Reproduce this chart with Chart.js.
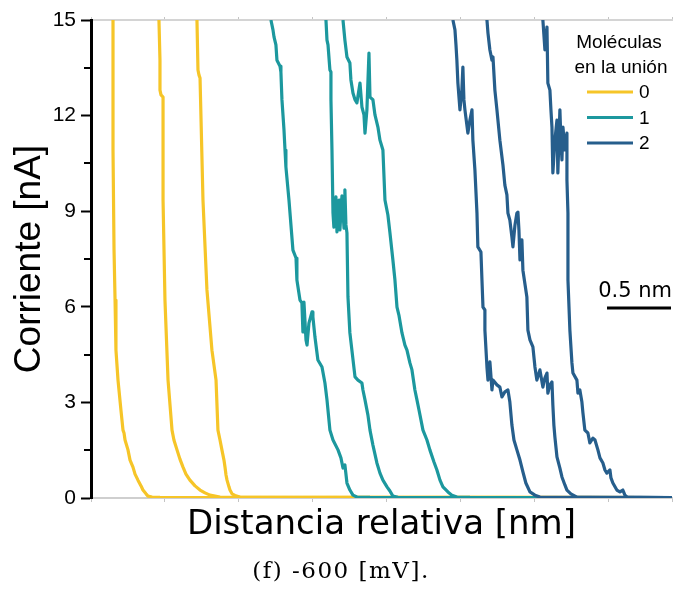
<!DOCTYPE html>
<html>
<head>
<meta charset="utf-8">
<script src="https://cdn.jsdelivr.net/npm/chart.js@4"></script>
<style>
  body { margin: 0; background: #fff; }
  #wrap { width: 673px; height: 600px; }
</style>
</head>
<body>
<div id="wrap"><canvas id="curvas" width="673" height="600"></canvas></div>
<script>
// distancia relativa [nm], corriente [nA]
const XMAX = 4.54;
const yTicks = [0, 3, 6, 9, 12, 15];
const grupos = ['0', '1', '2'];
const leyendaTitulo = ['Moléculas', 'en la unión'];
const barraNm = 0.5;

const mol0_a = [[0.172,15],[0.172,10.92],[0.180,7.78],[0.188,6.21],[0.195,4.64],[0.211,3.70],[0.234,2.76],[0.250,2.13],[0.258,2.04],[0.266,1.82],[0.289,1.51],[0.305,1.19],[0.328,0.97],[0.344,0.75],[0.367,0.56],[0.391,0.38],[0.406,0.25],[0.430,0.13],[0.445,0.06],[0.477,0.03],[0.539,0.02],[1.5,0.01],[3.0,0.02],[4.54,0.01]];
const mol0_b = [[0.531,15],[0.539,13.74],[0.539,12.80],[0.547,12.65],[0.563,12.58],[0.563,9.35],[0.578,6.21],[0.602,3.70],[0.633,2.13],[0.648,1.82],[0.672,1.51],[0.695,1.22],[0.719,0.97],[0.742,0.75],[0.773,0.56],[0.813,0.38],[0.852,0.25],[0.891,0.16],[0.930,0.09],[1.008,0.03],[1.164,0.02],[4.54,0.01]];
const mol0_c = [[0.828,15],[0.836,13.43],[0.844,13.27],[0.852,13.18],[0.875,9.35],[0.906,6.53],[0.945,4.64],[0.977,3.70],[0.992,2.13],[1.008,1.82],[1.023,1.51],[1.039,1.19],[1.047,0.97],[1.055,0.72],[1.063,0.56],[1.078,0.35],[1.086,0.25],[1.102,0.13],[1.125,0.08],[1.164,0.03],[1.320,0.02],[4.54,0.01]];

const mol1_a = [[1.406,15],[1.422,14.69],[1.430,14.47],[1.445,14.22],[1.453,13.74],[1.477,13.55],[1.484,13.37],[1.492,12.50],[1.508,11.55],[1.516,10.92],[1.523,10.39],[1.547,9.35],[1.578,7.78],[1.602,7.53],[1.609,6.84],[1.633,6.21],[1.648,6.12],[1.656,5.21],[1.664,6.15],[1.680,4.96],[1.688,4.80],[1.703,5.49],[1.727,5.84],[1.734,5.68],[1.750,5.05],[1.773,4.33],[1.805,4.11],[1.828,3.61],[1.844,3.08],[1.867,2.13],[1.891,1.82],[1.930,1.51],[1.953,1.26],[1.969,0.94],[1.984,1.04],[2.000,0.47],[2.023,0.25],[2.047,0.09],[2.078,0.03],[2.180,0.02],[4.54,0.01]];
const mol1_b = [[1.836,15],[1.844,14.37],[1.852,14.22],[1.867,13.43],[1.875,13.37],[1.875,12.50],[1.883,10.92],[1.891,8.94],[1.898,8.50],[1.914,9.45],[1.922,8.35],[1.938,9.35],[1.945,8.41],[1.961,9.48],[1.977,8.47],[1.984,9.67],[1.992,8.57],[2.000,8.32],[2.008,6.31],[2.023,5.18],[2.063,3.80],[2.086,3.70],[2.117,3.61],[2.125,3.39],[2.141,3.08],[2.164,2.60],[2.180,2.13],[2.203,1.66],[2.234,1.10],[2.258,0.78],[2.281,0.56],[2.313,0.35],[2.336,0.22],[2.359,0.06],[2.398,0.02],[4.54,0.01]];
const mol1_c = [[1.969,15],[1.984,14.37],[2.000,13.84],[2.023,13.65],[2.031,13.12],[2.047,12.71],[2.063,12.50],[2.078,12.40],[2.102,13.02],[2.117,12.27],[2.133,12.02],[2.141,11.45],[2.156,12.18],[2.172,13.96],[2.180,12.58],[2.203,12.50],[2.219,12.02],[2.242,11.64],[2.258,11.23],[2.281,10.92],[2.297,9.35],[2.320,8.88],[2.336,8.32],[2.359,7.47],[2.375,6.84],[2.391,5.99],[2.406,5.74],[2.430,5.18],[2.453,4.80],[2.469,4.64],[2.492,4.24],[2.508,4.02],[2.531,3.39],[2.547,3.08],[2.563,2.76],[2.594,2.13],[2.625,1.82],[2.648,1.51],[2.680,1.13],[2.703,0.88],[2.727,0.56],[2.750,0.35],[2.789,0.19],[2.820,0.09],[2.859,0.03],[2.961,0.02],[4.54,0.01]];

const mol2_a = [[2.828,15],[2.844,14.69],[2.852,14.22],[2.859,13.74],[2.867,13.02],[2.883,12.18],[2.898,12.80],[2.906,13.52],[2.914,12.50],[2.922,12.18],[2.945,11.45],[2.961,11.86],[2.977,12.18],[2.984,11.23],[3.000,10.29],[3.016,8.94],[3.023,7.88],[3.047,7.72],[3.055,6.84],[3.063,5.99],[3.078,5.90],[3.078,5.27],[3.094,4.11],[3.102,3.70],[3.117,4.27],[3.133,3.39],[3.141,3.70],[3.172,3.55],[3.195,3.48],[3.211,3.17],[3.234,3.33],[3.258,3.39],[3.273,3.01],[3.289,2.29],[3.305,1.82],[3.328,1.51],[3.352,1.19],[3.375,0.82],[3.398,0.47],[3.430,0.19],[3.469,0.09],[3.508,0.03],[3.625,0.02],[4.54,0.01]];
const mol2_b = [[3.094,15],[3.102,14.59],[3.117,14.06],[3.133,13.74],[3.141,13.84],[3.156,12.80],[3.172,12.18],[3.195,11.23],[3.219,10.45],[3.234,9.82],[3.250,9.51],[3.258,8.94],[3.273,8.72],[3.289,8.19],[3.297,7.88],[3.313,8.57],[3.328,8.94],[3.336,8.97],[3.344,8.41],[3.352,7.47],[3.367,8.10],[3.375,7.15],[3.406,6.31],[3.414,5.27],[3.430,4.96],[3.453,4.74],[3.469,4.11],[3.484,3.70],[3.508,4.02],[3.531,3.48],[3.547,3.77],[3.563,3.92],[3.570,3.29],[3.586,3.55],[3.602,3.64],[3.609,2.92],[3.617,2.29],[3.625,1.91],[3.641,1.29],[3.664,0.94],[3.680,0.66],[3.703,0.41],[3.719,0.25],[3.750,0.13],[3.797,0.03],[3.898,0.02],[4.54,0.01]];
const mol2_c = [[3.531,15],[3.539,14.53],[3.547,14.06],[3.563,14.78],[3.570,13.02],[3.586,12.80],[3.594,12.18],[3.602,11.64],[3.609,10.20],[3.625,11.23],[3.641,11.86],[3.648,10.20],[3.664,12.18],[3.672,11.23],[3.680,10.61],[3.688,11.64],[3.703,10.92],[3.719,11.45],[3.719,9.98],[3.727,8.94],[3.727,6.84],[3.742,5.27],[3.758,4.24],[3.766,3.92],[3.797,3.70],[3.805,3.29],[3.820,3.39],[3.836,3.01],[3.844,2.67],[3.859,2.13],[3.883,2.04],[3.898,1.73],[3.922,1.88],[3.938,1.82],[3.961,1.51],[3.977,1.26],[4.000,1.10],[4.016,0.88],[4.031,0.78],[4.055,0.88],[4.063,0.63],[4.078,0.47],[4.109,0.25],[4.133,0.19],[4.156,0.25],[4.172,0.09],[4.188,0.03],[4.289,0.02],[4.54,0.01]];

const series = [[mol0_a, mol0_b, mol0_c], [mol1_a, mol1_b, mol1_c], [mol2_a, mol2_b, mol2_c]];
const colores = ['#f6c528', '#1c989e', '#265e8c'];

const datasets = [];
series.forEach((curvas, g) => {
    curvas.forEach(c => {
        datasets.push({
            label: grupos[g],
            data: c.map(p => ({ x: p[0], y: p[1] })),
            borderColor: colores[g],
            borderWidth: 3.2,
            borderJoinStyle: 'round',
            showLine: true,
            pointRadius: 0,
            tension: 0,
            order: 2 - g
        });
    });
});

// legend, minor ticks, scale bar, caption
const extras = {
    id: 'extras',
    afterDraw(chart) {
        const { ctx, chartArea, scales } = chart;
        const ys = scales.y;
        ctx.save();
        ctx.strokeStyle = '#000';
        ctx.lineWidth = 2;
        for (let v = 1.5; v < 15; v += 3) {
            const py = Math.round(ys.getPixelForValue(v));
            ctx.beginPath();
            ctx.moveTo(ys.right - 7, py);
            ctx.lineTo(ys.right - 1, py);
            ctx.stroke();
        }

        ctx.fillStyle = '#000';
        ctx.font = '19px "Liberation Sans", Arial, sans-serif';
        ctx.textAlign = 'center';
        ctx.textBaseline = 'middle';
        ctx.fillText(leyendaTitulo[0], 619, 43);
        ctx.fillText(leyendaTitulo[1], 621, 68);
        ctx.textAlign = 'left';
        grupos.forEach((g, i) => {
            const y = 92 + i * 25.5;
            ctx.strokeStyle = colores[i];
            ctx.lineWidth = 3;
            ctx.beginPath();
            ctx.moveTo(587, y);
            ctx.lineTo(633, y);
            ctx.stroke();
            ctx.fillText(g, 639, y + 1);
        });

        const xs = scales.x;
        const xr = chartArea.right - 1;
        const xl = xr - (xs.getPixelForValue(barraNm) - xs.getPixelForValue(0));
        ctx.strokeStyle = '#000';
        ctx.lineWidth = 3;
        ctx.beginPath();
        ctx.moveTo(xl, 308);
        ctx.lineTo(xr, 308);
        ctx.stroke();
        ctx.font = '21px "DejaVu Sans", sans-serif';
        ctx.textAlign = 'right';
        ctx.textBaseline = 'alphabetic';
        ctx.fillText(barraNm + ' nm', 672, 297);

        ctx.font = '23px "DejaVu Serif", serif';
        ctx.textAlign = 'center';
        if ('letterSpacing' in ctx) ctx.letterSpacing = '1.5px';
        ctx.fillText('(f) -600 [mV].', 341, 578);
        ctx.restore();
    }
};

new Chart(document.getElementById('curvas'), {
    type: 'scatter',
    data: { datasets },
    plugins: [extras],
    options: {
        responsive: false,
        animation: false,
        devicePixelRatio: 1,
        layout: { padding: { left: 0, top: 20, right: 1, bottom: 0 } },
        plugins: { legend: { display: false }, tooltip: { enabled: false } },
        scales: {
            x: {
                type: 'linear',
                min: 0,
                max: XMAX,
                afterFit: s => { s.height = 102; },
                ticks: { display: false, stepSize: 0.578 },
                grid: { drawOnChartArea: false, tickLength: 4, tickColor: '#c4c4c4', tickWidth: 1 },
                border: { color: '#cfcfcf', width: 2 },
                title: {
                    display: true,
                    text: 'Distancia relativa [nm]',
                    color: '#000',
                    font: { family: '"DejaVu Sans", sans-serif', size: 34 },
                    padding: { top: 0, bottom: 54 }
                }
            },
            x2: {
                type: 'linear',
                position: 'top',
                min: 0,
                max: XMAX,
                afterFit: s => { s.height = 0; },
                ticks: { display: false, stepSize: 0.578 },
                grid: { drawOnChartArea: false, tickLength: 3, tickColor: '#c4c4c4', tickWidth: 1 },
                border: { color: '#d4d4d4', width: 2 }
            },
            y: {
                min: 0,
                max: 15,
                afterFit: s => { s.width = 91; },
                afterBuildTicks: s => { s.ticks = yTicks.map(v => ({ value: v })); },
                ticks: {
                    color: '#000',
                    padding: 5,
                    font: { family: '"Liberation Sans", Arial, sans-serif', size: 21 }
                },
                grid: { drawOnChartArea: false, tickLength: 10, tickColor: '#000', tickWidth: 2 },
                border: { color: '#000', width: 3 },
                title: {
                    display: true,
                    text: 'Corriente [nA]',
                    color: '#000',
                    font: { family: '"Liberation Sans", Arial, sans-serif', size: 37 },
                    padding: { top: 8, bottom: 0 }
                }
            }
        }
    }
});
</script>
</body>
</html>
